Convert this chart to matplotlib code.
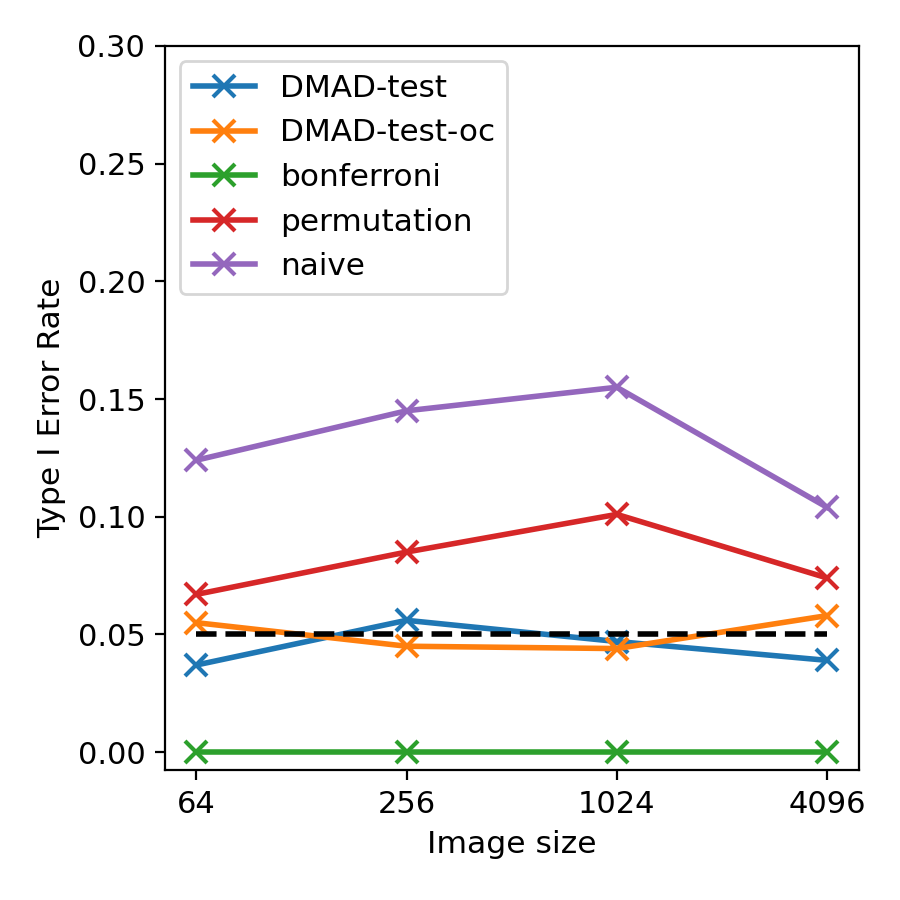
import matplotlib
matplotlib.use("Agg")
import matplotlib.pyplot as plt

image_sizes = [64, 256, 1024, 4096]
series_names = ["DMAD-test", "DMAD-test-oc", "bonferroni", "permutation", "naive"]
dmad_test = [0.037, 0.056, 0.047, 0.039]
dmad_test_oc = [0.055, 0.045, 0.044, 0.058]
bonferroni = [0.0, 0.0, 0.0, 0.0]
permutation = [0.067, 0.085, 0.101, 0.074]
naive = [0.124, 0.145, 0.155, 0.104]
alpha = 0.05

plt.rcParams["font.size"] = 11
fig = plt.figure(figsize=(4.5, 4.5), dpi=200)
ax = fig.add_axes([0.183, 0.144, 0.771, 0.805])
for name, vals in zip(series_names, [dmad_test, dmad_test_oc, bonferroni, permutation, naive]):
    ax.plot(image_sizes, vals, marker="x", label=name, lw=2, ms=8, mew=1.5)
ax.plot([image_sizes[0], image_sizes[-1]], [alpha, alpha], "k--", lw=2)
ax.set_xscale("log", base=2)
ax.set_xticks(image_sizes)
ax.set_xticklabels([str(s) for s in image_sizes])
ax.minorticks_off()
ax.set_ylim(top=0.30)
ax.set_xlabel("Image size", fontsize=11.3)
ax.set_ylabel("Type I Error Rate", fontsize=11.3)
ax.legend(loc="upper left", fontsize=11.2)
fig.savefig("out.png", dpi=200)
